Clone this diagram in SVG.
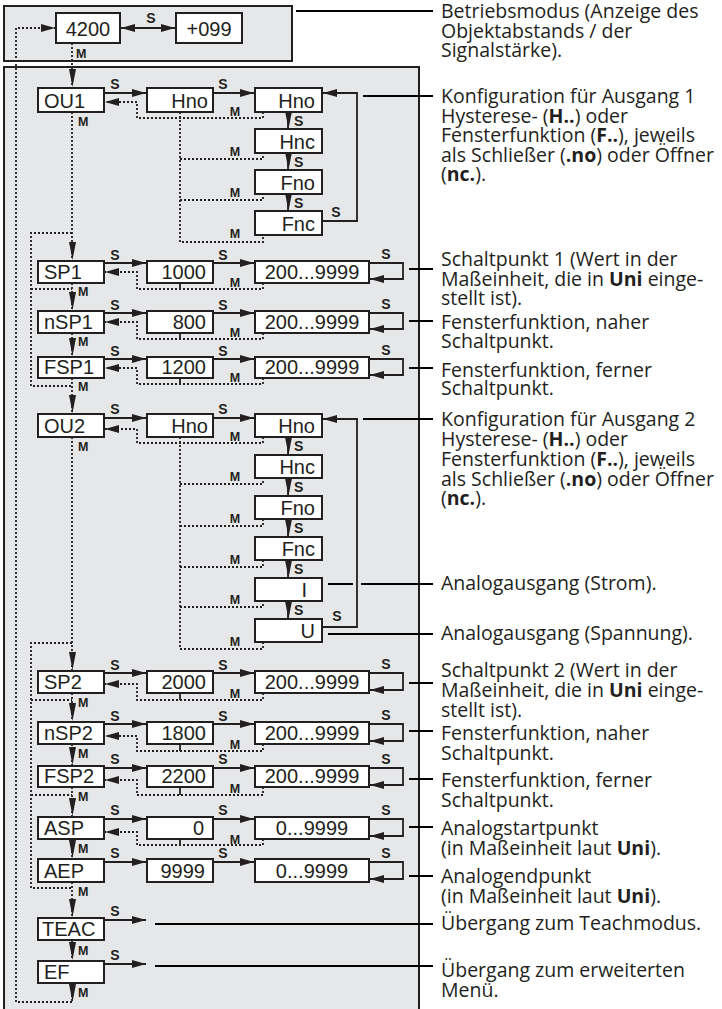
<svg xmlns="http://www.w3.org/2000/svg" width="722" height="1009" viewBox="0 0 722 1009">
<style>
.panel{fill:#e6e7e8;stroke:#231f20;stroke-width:2}
.box{fill:#fff;stroke:#231f20;stroke-width:2}
.t{font-family:"Liberation Sans",Arial,sans-serif;font-size:20px;fill:#231f20}
.e{text-anchor:end}
.c{text-anchor:middle}
.lb{font-family:"Liberation Sans",Arial,sans-serif;font-weight:bold;font-size:14px;fill:#231f20}
.m{font-size:12.5px}
.sl{stroke:#231f20;stroke-width:1.8;fill:none}
.dt{stroke:#231f20;stroke-width:1.8;fill:none;stroke-dasharray:2 2}
.ld{stroke:#000;stroke-width:2;fill:none}
.d{font-family:"Open Sans","Noto Sans",sans-serif;font-size:19.5px;fill:#231f20}
.b{font-weight:bold}
</style>
<defs>
<marker id="ah" markerWidth="14" markerHeight="8" refX="14" refY="4" orient="auto" markerUnits="userSpaceOnUse"><path d="M0,0 L14,4 L0,8 z" fill="#231f20"/></marker>
<marker id="as" markerWidth="14" markerHeight="8" refX="14" refY="4" orient="auto-start-reverse" markerUnits="userSpaceOnUse"><path d="M0,0 L14,4 L0,8 z" fill="#231f20"/></marker>
<marker id="av" markerWidth="18" markerHeight="8" refX="18" refY="4" orient="auto" markerUnits="userSpaceOnUse"><path d="M0,0 L18,3.5 L0,7 z" fill="#231f20"/></marker>
</defs>

<rect class="panel" x="4" y="6" width="288" height="55"/>
<rect class="panel" x="4" y="67" width="415" height="960"/>

<g id="n4200"><rect class="box" x="56" y="13" width="64" height="30"/><text class="t c" x="88" y="36">4200</text></g>
<g id="n099"><rect class="box" x="176" y="13" width="66" height="30"/><text class="t c" x="209" y="36">+099</text></g>

<g id="ou1"><rect class="box" x="38" y="88" width="66" height="24"/><text class="t" x="44" y="108">OU1</text></g>
<g id="ou1-hno"><rect class="box" x="147" y="88" width="66" height="24"/><text class="t e" x="208" y="108">Hno</text></g>
<g id="ou1-hno2"><rect class="box" x="255" y="88" width="67" height="24"/><text class="t e" x="315" y="108">Hno</text></g>
<g id="ou1-hnc"><rect class="box" x="255" y="129" width="67" height="24"/><text class="t e" x="315" y="149">Hnc</text></g>
<g id="ou1-fno"><rect class="box" x="255" y="170" width="67" height="24"/><text class="t e" x="315" y="190">Fno</text></g>
<g id="ou1-fnc"><rect class="box" x="255" y="211" width="67" height="24"/><text class="t e" x="315" y="231">Fnc</text></g>

<g id="sp1"><rect class="box" x="38" y="261" width="66" height="22"/><text class="t" x="44" y="279">SP1</text></g>
<g id="sp1-v"><rect class="box" x="147" y="261" width="66" height="22"/><text class="t e" x="206" y="279">1000</text></g>
<g id="sp1-r"><rect class="box" x="255" y="261" width="114" height="22"/><text class="t c" x="312" y="279">200...9999</text></g>
<g id="nsp1"><rect class="box" x="38" y="311" width="66" height="22"/><text class="t" x="44" y="329">nSP1</text></g>
<g id="nsp1-v"><rect class="box" x="147" y="311" width="66" height="22"/><text class="t e" x="206" y="329">800</text></g>
<g id="nsp1-r"><rect class="box" x="255" y="311" width="114" height="22"/><text class="t c" x="312" y="329">200...9999</text></g>
<g id="fsp1"><rect class="box" x="38" y="357" width="66" height="21"/><text class="t" x="44" y="374">FSP1</text></g>
<g id="fsp1-v"><rect class="box" x="147" y="357" width="66" height="21"/><text class="t e" x="206" y="374">1200</text></g>
<g id="fsp1-r"><rect class="box" x="255" y="357" width="114" height="21"/><text class="t c" x="312" y="374">200...9999</text></g>

<g id="ou2"><rect class="box" x="38" y="414" width="66" height="23"/><text class="t" x="44" y="433">OU2</text></g>
<g id="ou2-hno"><rect class="box" x="147" y="414" width="66" height="23"/><text class="t e" x="208" y="433">Hno</text></g>
<g id="ou2-hno2"><rect class="box" x="255" y="414" width="67" height="23"/><text class="t e" x="315" y="433">Hno</text></g>
<g id="ou2-hnc"><rect class="box" x="255" y="455" width="67" height="23"/><text class="t e" x="315" y="474">Hnc</text></g>
<g id="ou2-fno"><rect class="box" x="255" y="496" width="67" height="23"/><text class="t e" x="315" y="515">Fno</text></g>
<g id="ou2-fnc"><rect class="box" x="255" y="537" width="67" height="23"/><text class="t e" x="315" y="556">Fnc</text></g>
<g id="ou2-i"><rect class="box" x="255" y="578" width="67" height="23"/><text class="t e" x="307" y="597">I</text></g>
<g id="ou2-u"><rect class="box" x="255" y="619" width="67" height="23"/><text class="t e" x="315" y="638">U</text></g>

<g id="sp2"><rect class="box" x="38" y="671" width="66" height="22"/><text class="t" x="44" y="689">SP2</text></g>
<g id="sp2-v"><rect class="box" x="147" y="671" width="66" height="22"/><text class="t e" x="206" y="689">2000</text></g>
<g id="sp2-r"><rect class="box" x="255" y="671" width="114" height="22"/><text class="t c" x="312" y="689">200...9999</text></g>
<g id="nsp2"><rect class="box" x="38" y="722" width="66" height="22"/><text class="t" x="44" y="740">nSP2</text></g>
<g id="nsp2-v"><rect class="box" x="147" y="722" width="66" height="22"/><text class="t e" x="206" y="740">1800</text></g>
<g id="nsp2-r"><rect class="box" x="255" y="722" width="114" height="22"/><text class="t c" x="312" y="740">200...9999</text></g>
<g id="fsp2"><rect class="box" x="38" y="766" width="66" height="21"/><text class="t" x="44" y="783">FSP2</text></g>
<g id="fsp2-v"><rect class="box" x="147" y="766" width="66" height="21"/><text class="t e" x="206" y="783">2200</text></g>
<g id="fsp2-r"><rect class="box" x="255" y="766" width="114" height="21"/><text class="t c" x="312" y="783">200...9999</text></g>
<g id="asp"><rect class="box" x="38" y="817" width="66" height="22"/><text class="t" x="44" y="835">ASP</text></g>
<g id="asp-v"><rect class="box" x="147" y="817" width="66" height="22"/><text class="t e" x="204" y="835">0</text></g>
<g id="asp-r"><rect class="box" x="255" y="817" width="114" height="22"/><text class="t c" x="312" y="835">0...9999</text></g>
<g id="aep"><rect class="box" x="38" y="859" width="66" height="23"/><text class="t" x="44" y="878">AEP</text></g>
<g id="aep-v"><rect class="box" x="147" y="859" width="66" height="23"/><text class="t e" x="205" y="878">9999</text></g>
<g id="aep-r"><rect class="box" x="255" y="859" width="114" height="23"/><text class="t c" x="312" y="878">0...9999</text></g>
<g id="teac"><rect class="box" x="38" y="918" width="66" height="22"/><text class="t" x="42" y="936">TEAC</text></g>
<g id="ef"><rect class="box" x="38" y="961" width="66" height="22"/><text class="t" x="44" y="979">EF</text></g>

<g id="connectors">
<path class="sl" d="M121,28 H175" marker-start="url(#as)" marker-end="url(#ah)"/>
<text class="lb c" x="151" y="23">S</text>
<path class="dt" d="M72,1002 H16 V28 H55" marker-end="url(#ah)"/>
<path class="dt" d="M72,43 V87" marker-end="url(#av)"/>
<text class="lb m" x="76" y="58">M</text>

<path class="sl" d="M104,93 H146" marker-end="url(#ah)"/>
<text class="lb c" x="115" y="89">S</text>
<path class="sl" d="M213,93 H254" marker-end="url(#ah)"/>
<text class="lb c" x="223" y="89">S</text>
<path class="dt" d="M263,112 V118 H137 V102 H105" marker-end="url(#ah)"/>
<text class="lb m c" x="235" y="116">M</text>
<path class="dt" d="M180,112 V242 H263 V235 M180,159 H263 V153 M180,200 H263 V194"/>
<text class="lb m c" x="235" y="156">M</text>
<text class="lb m c" x="235" y="197">M</text>
<text class="lb m c" x="235" y="238">M</text>
<path class="sl" d="M288,112 V129" marker-end="url(#av)"/>
<path class="sl" d="M288,153 V170" marker-end="url(#av)"/>
<path class="sl" d="M288,194 V211" marker-end="url(#av)"/>
<text class="lb" x="294" y="126">S</text>
<text class="lb" x="294" y="167">S</text>
<text class="lb" x="294" y="208">S</text>
<path class="sl" d="M322,221 H357 V93 H323" marker-end="url(#ah)"/>
<text class="lb c" x="336" y="217">S</text>
<path class="dt" d="M72,112 V260" marker-end="url(#av)"/>
<text class="lb m" x="78" y="126">M</text>
<path class="dt" d="M72,233 H31 V386 H72 M31,289 H72"/>

<path class="sl" d="M104,263 H146" marker-end="url(#ah)"/>
<text class="lb c" x="115" y="260">S</text>
<path class="sl" d="M213,263 H254" marker-end="url(#ah)"/>
<text class="lb c" x="223" y="260">S</text>
<path class="dt" d="M263,283 V289 H137 V272 H105" marker-end="url(#ah)"/>
<path class="sl" d="M180,283 V289"/>
<text class="lb m c" x="235" y="287">M</text>
<path class="sl" d="M369,263 H403 V279 H370" marker-end="url(#ah)"/>
<text class="lb c" x="386" y="259">S</text>
<path class="dt" d="M72,283 V310" marker-end="url(#av)"/>
<text class="lb m" x="78" y="296">M</text>

<path class="sl" d="M104,313 H146" marker-end="url(#ah)"/>
<text class="lb c" x="115" y="310">S</text>
<path class="sl" d="M213,313 H254" marker-end="url(#ah)"/>
<text class="lb c" x="223" y="310">S</text>
<path class="dt" d="M263,333 V339 H137 V322 H105" marker-end="url(#ah)"/>
<path class="sl" d="M180,333 V339"/>
<text class="lb m c" x="235" y="337">M</text>
<path class="sl" d="M369,313 H403 V329 H370" marker-end="url(#ah)"/>
<text class="lb c" x="386" y="309">S</text>
<path class="dt" d="M72,333 V356" marker-end="url(#av)"/>
<text class="lb m" x="78" y="346">M</text>

<path class="sl" d="M104,359 H146" marker-end="url(#ah)"/>
<text class="lb c" x="115" y="356">S</text>
<path class="sl" d="M213,359 H254" marker-end="url(#ah)"/>
<text class="lb c" x="223" y="356">S</text>
<path class="dt" d="M263,378 V384 H137 V368 H105" marker-end="url(#ah)"/>
<path class="sl" d="M180,378 V384"/>
<text class="lb m c" x="235" y="382">M</text>
<path class="sl" d="M369,359 H403 V375 H370" marker-end="url(#ah)"/>
<text class="lb c" x="386" y="355">S</text>
<path class="dt" d="M72,378 V413" marker-end="url(#av)"/>
<text class="lb m" x="78" y="391">M</text>

<path class="sl" d="M104,418 H146" marker-end="url(#ah)"/>
<text class="lb c" x="115" y="414">S</text>
<path class="sl" d="M213,418 H254" marker-end="url(#ah)"/>
<text class="lb c" x="223" y="414">S</text>
<path class="dt" d="M263,437 V443 H137 V429 H105" marker-end="url(#ah)"/>
<text class="lb m c" x="235" y="441">M</text>
<path class="dt" d="M180,437 V649 H263 V642 M180,484 H263 V478 M180,526 H263 V519 M180,567 H263 V560 M180,607 H263 V601"/>
<text class="lb m c" x="235" y="481">M</text>
<text class="lb m c" x="235" y="523">M</text>
<text class="lb m c" x="235" y="564">M</text>
<text class="lb m c" x="235" y="604">M</text>
<text class="lb m c" x="235" y="646">M</text>
<path class="sl" d="M288,437 V455" marker-end="url(#av)"/>
<path class="sl" d="M288,478 V496" marker-end="url(#av)"/>
<path class="sl" d="M288,519 V537" marker-end="url(#av)"/>
<path class="sl" d="M288,560 V578" marker-end="url(#av)"/>
<path class="sl" d="M288,601 V619" marker-end="url(#av)"/>
<text class="lb" x="294" y="451">S</text>
<text class="lb" x="294" y="492">S</text>
<text class="lb" x="294" y="533">S</text>
<text class="lb" x="294" y="574">S</text>
<text class="lb" x="294" y="615">S</text>
<path class="sl" d="M322,627 H357 V419 H323" marker-end="url(#ah)"/>
<text class="lb c" x="337" y="621">S</text>
<path class="dt" d="M72,437 V670" marker-end="url(#av)"/>
<text class="lb m" x="78" y="451">M</text>
<path class="dt" d="M72,643 H31 V888 H72 M31,700 H72 M31,795 H72"/>

<path class="sl" d="M104,673 H146" marker-end="url(#ah)"/>
<text class="lb c" x="115" y="670">S</text>
<path class="sl" d="M213,673 H254" marker-end="url(#ah)"/>
<text class="lb c" x="223" y="670">S</text>
<path class="dt" d="M263,693 V700 H137 V684 H105" marker-end="url(#ah)"/>
<path class="sl" d="M180,693 V700"/>
<text class="lb m c" x="235" y="698">M</text>
<path class="sl" d="M369,673 H403 V690 H370" marker-end="url(#ah)"/>
<text class="lb c" x="386" y="669">S</text>
<path class="dt" d="M72,693 V721" marker-end="url(#av)"/>
<text class="lb m" x="78" y="707">M</text>

<path class="sl" d="M104,724 H146" marker-end="url(#ah)"/>
<text class="lb c" x="115" y="721">S</text>
<path class="sl" d="M213,724 H254" marker-end="url(#ah)"/>
<text class="lb c" x="223" y="721">S</text>
<path class="dt" d="M263,744 V751 H137 V736 H105" marker-end="url(#ah)"/>
<path class="sl" d="M180,744 V751"/>
<text class="lb m c" x="235" y="749">M</text>
<path class="sl" d="M369,724 H403 V741 H370" marker-end="url(#ah)"/>
<text class="lb c" x="386" y="720">S</text>
<path class="dt" d="M72,744 V765" marker-end="url(#av)"/>
<text class="lb m" x="78" y="758">M</text>

<path class="sl" d="M104,768 H146" marker-end="url(#ah)"/>
<text class="lb c" x="115" y="764">S</text>
<path class="sl" d="M213,768 H254" marker-end="url(#ah)"/>
<text class="lb c" x="223" y="764">S</text>
<path class="dt" d="M263,787 V795 H137 V780 H105" marker-end="url(#ah)"/>
<path class="sl" d="M180,787 V795"/>
<text class="lb m c" x="235" y="793">M</text>
<path class="sl" d="M369,768 H403 V785 H370" marker-end="url(#ah)"/>
<text class="lb c" x="386" y="764">S</text>
<path class="dt" d="M72,787 V816" marker-end="url(#av)"/>
<text class="lb m" x="78" y="801">M</text>

<path class="sl" d="M104,819 H146" marker-end="url(#ah)"/>
<text class="lb c" x="115" y="815">S</text>
<path class="sl" d="M213,819 H254" marker-end="url(#ah)"/>
<text class="lb c" x="223" y="815">S</text>
<path class="dt" d="M263,839 V845 H137 V832 H105" marker-end="url(#ah)"/>
<path class="sl" d="M180,839 V845"/>
<text class="lb m c" x="235" y="844">M</text>
<path class="sl" d="M369,819 H403 V836 H370" marker-end="url(#ah)"/>
<text class="lb c" x="386" y="815">S</text>
<path class="dt" d="M72,839 V858" marker-end="url(#av)"/>
<text class="lb m" x="78" y="853">M</text>

<path class="sl" d="M104,862 H146" marker-end="url(#ah)"/>
<text class="lb c" x="115" y="858">S</text>
<path class="sl" d="M213,862 H254" marker-end="url(#ah)"/>
<text class="lb c" x="223" y="858">S</text>
<path class="sl" d="M369,862 H403 V879 H370" marker-end="url(#ah)"/>
<text class="lb c" x="386" y="858">S</text>
<path class="dt" d="M72,882 V917" marker-end="url(#av)"/>
<text class="lb m" x="78" y="896">M</text>

<path class="sl" d="M104,920 H146" marker-end="url(#ah)"/>
<text class="lb c" x="115" y="916">S</text>
<path class="dt" d="M72,940 V960" marker-end="url(#av)"/>
<text class="lb m" x="78" y="955">M</text>
<path class="sl" d="M104,964 H146" marker-end="url(#ah)"/>
<text class="lb c" x="115" y="960">S</text>
<path class="dt" d="M72,983 V1002" marker-end="url(#av)"/>
<text class="lb m" x="78" y="997">M</text>
</g>

<g id="leaders">
<path class="ld" d="M296,11 H433"/>
<path class="ld" d="M363,96 H433"/>
<path class="ld" d="M409,269 H433"/>
<path class="ld" d="M409,321 H433"/>
<path class="ld" d="M409,368 H433"/>
<path class="ld" d="M363,419 H433"/>
<path class="ld" d="M328,584 H353 M361,584 H433"/>
<path class="ld" d="M328,634 H433"/>
<path class="ld" d="M409,683 H433"/>
<path class="ld" d="M409,731 H433"/>
<path class="ld" d="M409,779 H433"/>
<path class="ld" d="M409,827 H433"/>
<path class="ld" d="M409,876 H433"/>
<path class="ld" d="M155,924 H433"/>
<path class="ld" d="M155,966 H433"/>
</g>

<g id="descriptions" class="d">
<text x="441" y="18">Betriebsmodus (Anzeige des</text>
<text x="441" y="37.5">Objektabstands / der</text>
<text x="441" y="57">Signalstärke).</text>
<text x="441" y="103">Konfiguration für Ausgang 1</text>
<text x="441" y="122.5">Hysterese- (<tspan class="b">H..</tspan>) oder</text>
<text x="441" y="142">Fensterfunktion (<tspan class="b">F..</tspan>), jeweils</text>
<text x="441" y="161.5">als Schließer (<tspan class="b">.no</tspan>) oder Öffner</text>
<text x="441" y="181">(<tspan class="b">nc.</tspan>).</text>
<text x="441" y="266">Schaltpunkt 1 (Wert in der</text>
<text x="441" y="286">Maßeinheit, die in <tspan class="b">Uni</tspan> einge-</text>
<text x="441" y="305">stellt ist).</text>
<text x="441" y="329">Fensterfunktion, naher</text>
<text x="441" y="348">Schaltpunkt.</text>
<text x="441" y="377">Fensterfunktion, ferner</text>
<text x="441" y="395">Schaltpunkt.</text>
<text x="441" y="426">Konfiguration für Ausgang 2</text>
<text x="441" y="446">Hysterese- (<tspan class="b">H..</tspan>) oder</text>
<text x="441" y="466">Fensterfunktion (<tspan class="b">F..</tspan>), jeweils</text>
<text x="441" y="486">als Schließer (<tspan class="b">.no</tspan>) oder Öffner</text>
<text x="441" y="505">(<tspan class="b">nc.</tspan>).</text>
<text x="441" y="590">Analogausgang (Strom).</text>
<text x="441" y="640">Analogausgang (Spannung).</text>
<text x="441" y="677">Schaltpunkt 2 (Wert in der</text>
<text x="441" y="697">Maßeinheit, die in <tspan class="b">Uni</tspan> einge-</text>
<text x="441" y="717">stellt ist).</text>
<text x="441" y="740">Fensterfunktion, naher</text>
<text x="441" y="760">Schaltpunkt.</text>
<text x="441" y="787">Fensterfunktion, ferner</text>
<text x="441" y="807">Schaltpunkt.</text>
<text x="441" y="835">Analogstartpunkt</text>
<text x="441" y="855">(in Maßeinheit laut <tspan class="b">Uni</tspan>).</text>
<text x="441" y="883">Analogendpunkt</text>
<text x="441" y="903">(in Maßeinheit laut <tspan class="b">Uni</tspan>).</text>
<text x="441" y="930">Übergang zum Teachmodus.</text>
<text x="441" y="977">Übergang zum erweiterten</text>
<text x="441" y="997">Menü.</text>
</g>
</svg>
